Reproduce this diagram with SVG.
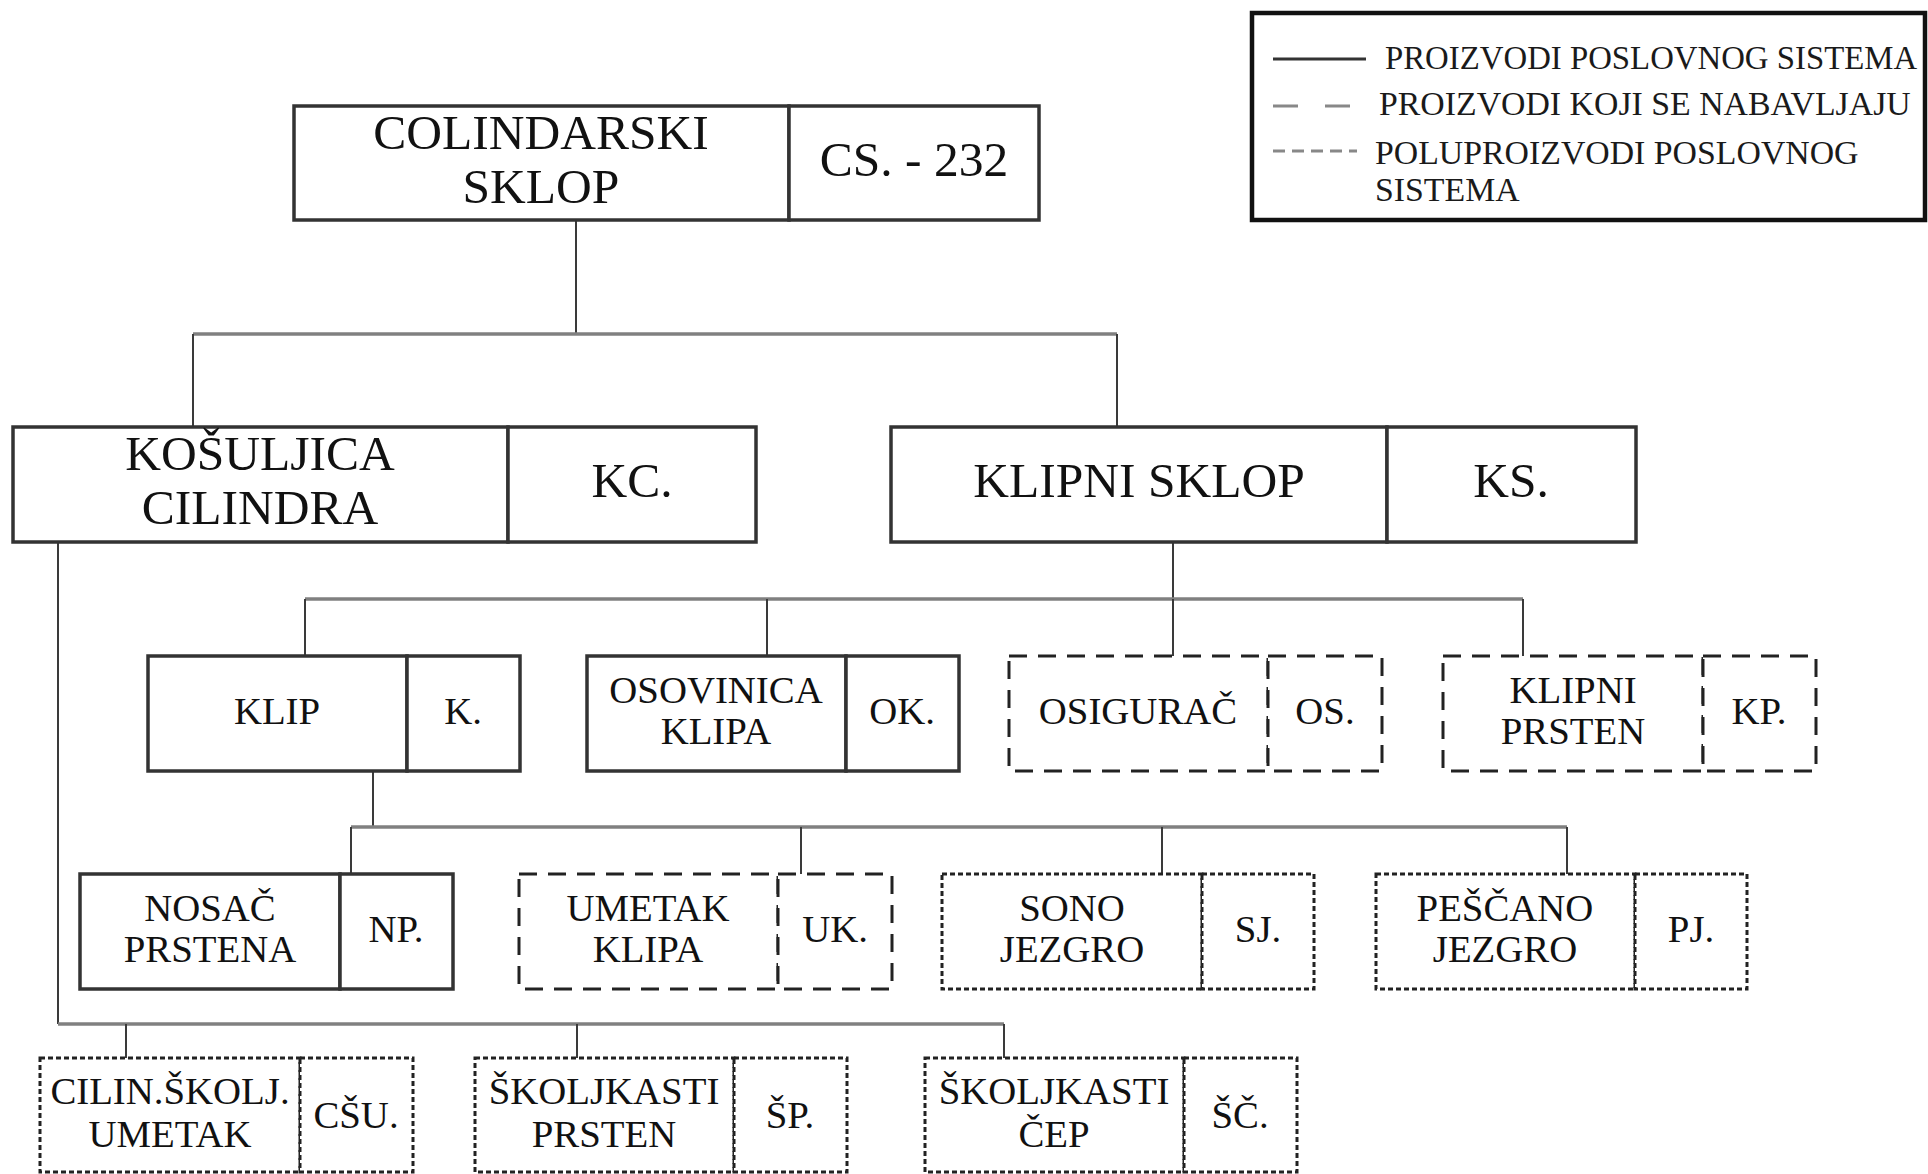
<svg xmlns="http://www.w3.org/2000/svg" width="1928" height="1174" viewBox="0 0 1928 1174">
<style>
.bg{fill:#ffffff}
.box{fill:#ffffff;stroke:#333333;stroke-width:3.5}
.dash{fill:#ffffff;stroke:#222222;stroke-width:3;stroke-dasharray:18 11}
.dot{fill:#ffffff;stroke:#222222;stroke-width:3;stroke-dasharray:5 3}
.h{stroke:#808080;stroke-width:3.5;fill:none}
.v{stroke:#3a3a3a;stroke-width:2;fill:none}
text{font-family:'Liberation Serif',serif;fill:#111111;text-anchor:middle}
.big{font-size:49.5px}
.sm{font-size:38.8px}
.lg{font-size:33.8px;text-anchor:start;fill:#1a1a1a}
</style>
<rect class="bg" x="0" y="0" width="1928" height="1174"/>

<g id="connectors">
<line class="v" x1="576" y1="220" x2="576" y2="334"/>
<line class="h" x1="193" y1="334" x2="1117" y2="334"/>
<line class="v" x1="193" y1="334" x2="193" y2="427"/>
<line class="v" x1="1117" y1="334" x2="1117" y2="427"/>

<line class="v" x1="1173" y1="542" x2="1173" y2="599"/>
<line class="h" x1="305" y1="599" x2="1523" y2="599"/>
<line class="v" x1="305" y1="599" x2="305" y2="656"/>
<line class="v" x1="767" y1="599" x2="767" y2="656"/>
<line class="v" x1="1173" y1="599" x2="1173" y2="656"/>
<line class="v" x1="1523" y1="599" x2="1523" y2="656"/>

<line class="v" x1="373" y1="771" x2="373" y2="827"/>
<line class="h" x1="351" y1="827" x2="1567" y2="827"/>
<line class="v" x1="351" y1="827" x2="351" y2="874"/>
<line class="v" x1="801" y1="827" x2="801" y2="874"/>
<line class="v" x1="1162" y1="827" x2="1162" y2="874"/>
<line class="v" x1="1567" y1="827" x2="1567" y2="874"/>

<line class="v" x1="58" y1="542" x2="58" y2="1024"/>
<line class="h" x1="58" y1="1024" x2="1004" y2="1024"/>
<line class="v" x1="126" y1="1024" x2="126" y2="1058"/>
<line class="v" x1="577" y1="1024" x2="577" y2="1058"/>
<line class="v" x1="1004" y1="1024" x2="1004" y2="1058"/>
</g>

<g id="node-cs232">
<rect class="box" x="294" y="106" width="495" height="114"/>
<rect class="box" x="789" y="106" width="250" height="114"/>
<text class="big" x="541" y="149">COLINDARSKI</text>
<text class="big" x="541" y="203">SKLOP</text>
<text class="big" x="914" y="176">CS. - 232</text>
</g>

<g id="node-kc">
<rect class="box" x="13" y="427" width="495" height="115"/>
<rect class="box" x="508" y="427" width="248" height="115"/>
<text class="big" x="260" y="470">KOŠULJICA</text>
<text class="big" x="260" y="524">CILINDRA</text>
<text class="big" x="632" y="497">KC.</text>
</g>

<g id="node-ks">
<rect class="box" x="891" y="427" width="496" height="115"/>
<rect class="box" x="1387" y="427" width="249" height="115"/>
<text class="big" x="1139" y="497">KLIPNI SKLOP</text>
<text class="big" x="1511" y="497">KS.</text>
</g>

<g id="node-k">
<rect class="box" x="148" y="656" width="259" height="115"/>
<rect class="box" x="407" y="656" width="113" height="115"/>
<text class="sm" x="277" y="724">KLIP</text>
<text class="sm" x="463" y="724">K.</text>
</g>

<g id="node-ok">
<rect class="box" x="587" y="656" width="259" height="115"/>
<rect class="box" x="846" y="656" width="113" height="115"/>
<text class="sm" x="716" y="703">OSOVINICA</text>
<text class="sm" x="716" y="744">KLIPA</text>
<text class="sm" x="902" y="724">OK.</text>
</g>

<g id="node-os">
<rect class="dash" x="1009" y="656" width="259" height="115"/>
<rect class="dash" x="1268" y="656" width="114" height="115"/>
<text class="sm" x="1138" y="724">OSIGURAČ</text>
<text class="sm" x="1325" y="724">OS.</text>
</g>

<g id="node-kp">
<rect class="dash" x="1443" y="656" width="260" height="115"/>
<rect class="dash" x="1703" y="656" width="113" height="115"/>
<text class="sm" x="1573" y="703">KLIPNI</text>
<text class="sm" x="1573" y="744">PRSTEN</text>
<text class="sm" x="1759" y="724">KP.</text>
</g>

<g id="node-np">
<rect class="box" x="80" y="874" width="260" height="115"/>
<rect class="box" x="340" y="874" width="113" height="115"/>
<text class="sm" x="210" y="921">NOSAČ</text>
<text class="sm" x="210" y="962">PRSTENA</text>
<text class="sm" x="396" y="942">NP.</text>
</g>

<g id="node-uk">
<rect class="dash" x="519" y="874" width="259" height="115"/>
<rect class="dash" x="778" y="874" width="114" height="115"/>
<text class="sm" x="648" y="921">UMETAK</text>
<text class="sm" x="648" y="962">KLIPA</text>
<text class="sm" x="835" y="942">UK.</text>
</g>

<g id="node-sj">
<rect class="dot" x="942" y="874" width="260" height="115"/>
<rect class="dot" x="1202" y="874" width="112" height="115"/>
<text class="sm" x="1072" y="921">SONO</text>
<text class="sm" x="1072" y="962">JEZGRO</text>
<text class="sm" x="1258" y="942">SJ.</text>
</g>

<g id="node-pj">
<rect class="dot" x="1376" y="874" width="259" height="115"/>
<rect class="dot" x="1635" y="874" width="112" height="115"/>
<text class="sm" x="1505" y="921">PEŠČANO</text>
<text class="sm" x="1505" y="962">JEZGRO</text>
<text class="sm" x="1691" y="942">PJ.</text>
</g>

<g id="node-csu">
<rect class="dot" x="40" y="1058" width="260" height="114"/>
<rect class="dot" x="300" y="1058" width="113" height="114"/>
<text class="sm" x="170" y="1104">CILIN.ŠKOLJ.</text>
<text class="sm" x="170" y="1147">UMETAK</text>
<text class="sm" x="356" y="1128">CŠU.</text>
</g>

<g id="node-sp">
<rect class="dot" x="475" y="1058" width="259" height="114"/>
<rect class="dot" x="734" y="1058" width="113" height="114"/>
<text class="sm" x="604" y="1104">ŠKOLJKASTI</text>
<text class="sm" x="604" y="1147">PRSTEN</text>
<text class="sm" x="790" y="1128">ŠP.</text>
</g>

<g id="node-sc">
<rect class="dot" x="925" y="1058" width="259" height="114"/>
<rect class="dot" x="1184" y="1058" width="113" height="114"/>
<text class="sm" x="1054" y="1104">ŠKOLJKASTI</text>
<text class="sm" x="1054" y="1147">ČEP</text>
<text class="sm" x="1240" y="1128">ŠČ.</text>
</g>

<g id="legend">
<rect x="1252" y="13" width="673" height="207" fill="#ffffff" stroke="#111111" stroke-width="4.5"/>
<line x1="1273" y1="59" x2="1366" y2="59" stroke="#333333" stroke-width="3"/>
<line x1="1273" y1="106" x2="1350" y2="106" stroke="#888888" stroke-width="3" stroke-dasharray="25 27"/>
<line x1="1273" y1="151" x2="1357" y2="151" stroke="#888888" stroke-width="3" stroke-dasharray="12 7"/>
<text class="lg" x="1385" y="69" style="font-size:32.8px">PROIZVODI POSLOVNOG SISTEMA</text>
<text class="lg" x="1379" y="115">PROIZVODI KOJI SE NABAVLJAJU</text>
<text class="lg" x="1375" y="164">POLUPROIZVODI POSLOVNOG</text>
<text class="lg" x="1375" y="201">SISTEMA</text>
</g>
</svg>
